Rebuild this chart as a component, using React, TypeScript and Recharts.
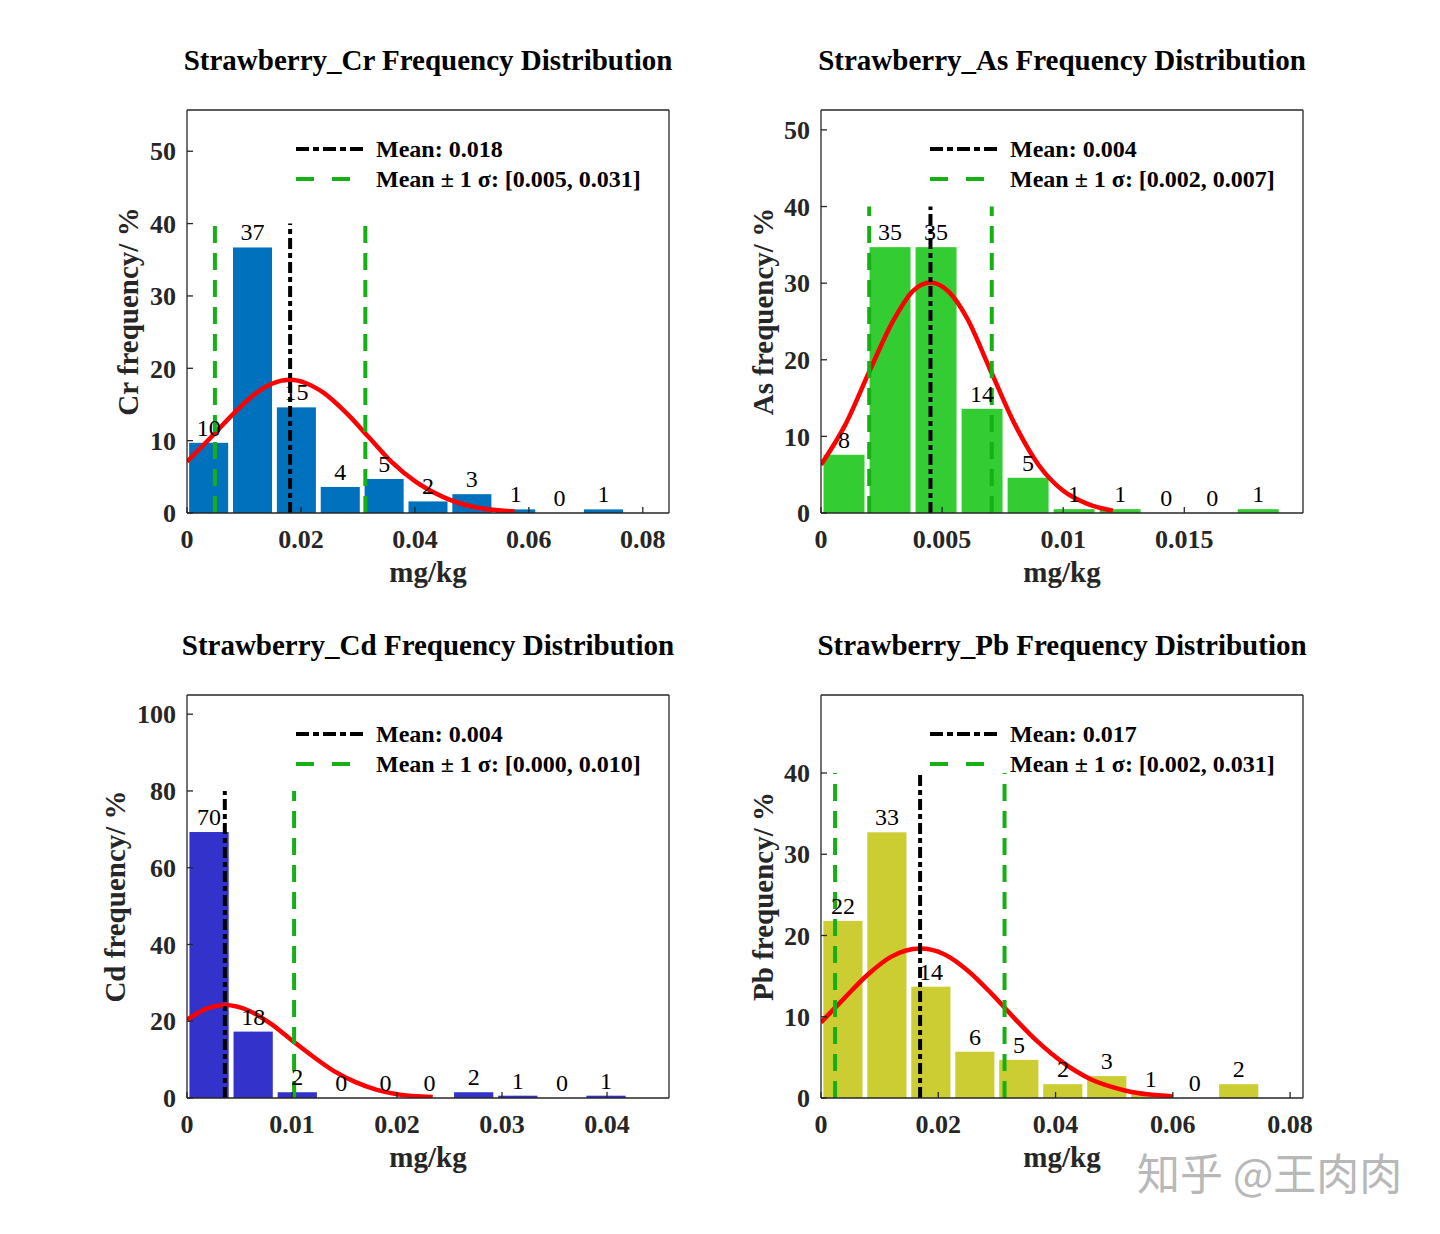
import {
  ComposedChart,
  Bar,
  Line,
  XAxis,
  YAxis,
  ReferenceLine,
  LabelList,
  Label,
  Legend,
} from "recharts";

const FONT = '"Liberation Serif", "Times New Roman", serif';
const AXIS_COLOR = "#262626";

// ---- Cr ----
const crBins = [0.0038, 0.0115, 0.0192, 0.0269, 0.0346, 0.0423, 0.05, 0.0577, 0.0654, 0.0731];
const crPct = [9.7, 36.7, 14.6, 3.6, 4.7, 1.6, 2.6, 0.5, 0, 0.5];
const crLabels = [10, 37, 15, 4, 5, 2, 3, 1, 0, 1];
const crCurveX = [0, 0.004, 0.008, 0.012, 0.015, 0.0181, 0.021, 0.024, 0.028, 0.032, 0.036, 0.04, 0.045, 0.05, 0.0575];
const crCurveY = [7.1, 10.3, 13.6, 16.5, 17.9, 18.4, 17.9, 16.6, 13.8, 10.4, 7.0, 4.4, 2.2, 0.9, 0.2];
const crMarks = [0.0181, 0.0049, 0.0313];
const crXTicks = [0, 0.02, 0.04, 0.06, 0.08];
const crYTicks = [0, 10, 20, 30, 40, 50];

// ---- As ----
const asBins = [0.00095, 0.00285, 0.00475, 0.00665, 0.00855, 0.01045, 0.01235, 0.01425, 0.01615, 0.01805];
const asPct = [7.6, 34.7, 34.7, 13.6, 4.6, 0.5, 0.5, 0, 0, 0.5];
const asLabels = [8, 35, 35, 14, 5, 1, 1, 0, 0, 1];
const asCurveX = [0, 0.001, 0.002, 0.003, 0.0038, 0.00452, 0.0053, 0.006, 0.007, 0.008, 0.009, 0.01, 0.011, 0.01205];
const asCurveY = [6.3, 11.5, 18.5, 25.2, 29.0, 30.1, 28.8, 25.6, 18.6, 11.6, 6.2, 2.9, 1.2, 0.3];
const asMarks = [0.00452, 0.00199, 0.00705];
const asXTicks = [0, 0.005, 0.01, 0.015];
const asYTicks = [0, 10, 20, 30, 40, 50];

// ---- Cd ----
const cdBins = [0.0021, 0.0063, 0.0105, 0.0147, 0.0189, 0.0231, 0.0273, 0.0315, 0.0357, 0.0399];
const cdPct = [69.3, 17.3, 1.5, 0, 0, 0, 1.5, 0.6, 0, 0.6];
const cdLabels = [70, 18, 2, 0, 0, 0, 2, 1, 0, 1];
const cdCurveX = [0, 0.002, 0.0036, 0.006, 0.008, 0.01, 0.012, 0.014, 0.016, 0.018, 0.02, 0.0234];
const cdCurveY = [20.4, 23.4, 24.2, 22.6, 19.3, 15.0, 10.8, 7.0, 4.2, 2.2, 1.0, 0.25];
const cdMarks = [0.0036, null, 0.0102];
const cdXTicks = [0, 0.01, 0.02, 0.03, 0.04];
const cdYTicks = [0, 20, 40, 60, 80, 100];

// ---- Pb ----
const pbBins = [0.00375, 0.01125, 0.01875, 0.02625, 0.03375, 0.04125, 0.04875, 0.05625, 0.06375, 0.07125];
const pbPct = [21.8, 32.7, 13.7, 5.7, 4.7, 1.7, 2.7, 0.5, 0, 1.7];
const pbLabels = [22, 33, 14, 6, 5, 2, 3, 1, 0, 2];
const pbCurveX = [0, 0.004, 0.008, 0.012, 0.0169, 0.021, 0.025, 0.029, 0.033, 0.037, 0.041, 0.046, 0.052, 0.06];
const pbCurveY = [9.3, 12.3, 15.2, 17.4, 18.4, 17.7, 15.7, 12.9, 9.8, 6.9, 4.5, 2.3, 0.9, 0.2];
const pbMarks = [0.0169, 0.0024, 0.0313];
const pbXTicks = [0, 0.02, 0.04, 0.06, 0.08];
const pbYTicks = [0, 10, 20, 30, 40];

const PLOT_W = 482;
const GREEN = "#14b014";

function Panel(props: any) {
  const {
    left, top, element, color, bins, pct, labels, curveX, curveY, marks,
    lineTop, xMax, yMax, xTicks, yTicks, meanText, rangeText, yLabelGap,
  } = props;
  const data = bins.map((x: number, i: number) => ({ x, pct: pct[i], label: labels[i] }));
  const curve = curveX.map((x: number, i: number) => ({ x, fit: curveY[i] }));
  const barW = ((bins[1] - bins[0]) / xMax) * PLOT_W * 0.89;
  const [mean, lower, upper] = marks;
  const tickFont = { fontFamily: FONT, fontSize: 26, fontWeight: "bold", fill: AXIS_COLOR };
  const innerTop = xTicks.filter((t: number) => t > 0);
  const innerRight = yTicks.filter((t: number) => t > 0);

  const barShape = (p: any) => {
    if (!p.height) return <g />;
    const cx = p.x + p.width / 2;
    return <rect x={cx - barW / 2} y={p.y} width={barW} height={p.height} fill={color} />;
  };

  const barLabel = (p: any) => (
    <text
      x={p.x + (p.width || 0) / 2}
      y={p.y - 7}
      textAnchor="middle"
      fontFamily={FONT}
      fontSize={24}
      fill="#000"
    >
      {p.value}
    </text>
  );

  const legendRow = (dash: string, stroke: string, text: string) => (
    <div style={{ display: "flex", alignItems: "center", height: 30 }}>
      <svg width={70} height={8} style={{ display: "block" }}>
        <line x1={0} y1={4} x2={70} y2={4} stroke={stroke} strokeWidth={4} strokeDasharray={dash} />
      </svg>
      <span style={{ marginLeft: 10, fontFamily: FONT, fontSize: 24, fontWeight: "bold", color: "#000", whiteSpace: "nowrap" }}>
        {text}
      </span>
    </div>
  );

  return (
    <div style={{ position: "absolute", left, top }}>
      <ComposedChart
        width={720}
        height={600}
        data={data}
        margin={{ top: 100, right: 41, bottom: 47, left: 127 }}
      >
        <XAxis
          dataKey="x"
          type="number"
          domain={[0, xMax]}
          ticks={xTicks}
          interval={0}
          allowDataOverflow
          height={40}
          tickSize={-6}
          tickMargin={23}
          stroke={AXIS_COLOR}
          strokeWidth={1.3}
          tick={tickFont}
        >
          <Label
            content={({ viewBox }: any) => (
              <text
                x={viewBox.x + viewBox.width / 2}
                y={viewBox.y + 69}
                textAnchor="middle"
                fontFamily={FONT}
                fontSize={29}
                fontWeight="bold"
                fill={AXIS_COLOR}
              >
                mg/kg
              </text>
            )}
          />
        </XAxis>
        <XAxis
          xAxisId="top"
          orientation="top"
          type="number"
          domain={[0, xMax]}
          ticks={innerTop}
          interval={0}
          allowDataOverflow
          height={10}
          tickSize={-6}
          stroke={AXIS_COLOR}
          strokeWidth={1.3}
          tick={false}
        >
          <Label
            content={({ viewBox }: any) => (
              <text
                x={viewBox.x + viewBox.width / 2}
                y={70}
                textAnchor="middle"
                fontFamily={FONT}
                fontSize={29}
                fontWeight="bold"
                fill="#000"
              >
                {`Strawberry_${element} Frequency Distribution`}
              </text>
            )}
          />
        </XAxis>
        <YAxis
          type="number"
          domain={[0, yMax]}
          ticks={yTicks}
          interval={0}
          allowDataOverflow
          width={60}
          tickSize={-6}
          tickMargin={17}
          stroke={AXIS_COLOR}
          strokeWidth={1.3}
          tick={tickFont}
        >
          <Label
            content={({ viewBox }: any) => {
              const cx = viewBox.x + viewBox.width - yLabelGap;
              const cy = viewBox.y + viewBox.height / 2;
              return (
                <text
                  x={cx}
                  y={cy}
                  transform={`rotate(-90 ${cx} ${cy})`}
                  textAnchor="middle"
                  dominantBaseline="central"
                  fontFamily={FONT}
                  fontSize={29}
                  fontWeight="bold"
                  fill={AXIS_COLOR}
                >
                  {`${element} frequency/ %`}
                </text>
              );
            }}
          />
        </YAxis>
        <YAxis
          yAxisId="right"
          orientation="right"
          type="number"
          domain={[0, yMax]}
          ticks={innerRight}
          interval={0}
          allowDataOverflow
          width={10}
          tickSize={-6}
          stroke={AXIS_COLOR}
          strokeWidth={1.3}
          tick={false}
        />
        <Legend
          layout="horizontal"
          verticalAlign="middle"
          align="center"
          wrapperStyle={{ left: 296, top: 134, width: 420 }}
          content={() => (
            <div>
              {legendRow("13 4 6 4", "#000", meanText)}
              {legendRow("18 18", GREEN, rangeText)}
            </div>
          )}
        />
        <Bar dataKey="pct" fill={color} shape={barShape} isAnimationActive={false} />
        <Line
          dataKey="pct"
          stroke="none"
          dot={false}
          activeDot={false}
          legendType="none"
          isAnimationActive={false}
        >
          <LabelList dataKey="label" content={barLabel} />
        </Line>
        <Line
          data={curve}
          dataKey="fit"
          type="monotone"
          stroke="#ff0000"
          strokeWidth={4.5}
          dot={false}
          activeDot={false}
          isAnimationActive={false}
        />
        <ReferenceLine
          segment={[{ x: mean, y: 0 }, { x: mean, y: lineTop }]}
          stroke="#000"
          strokeWidth={4}
          strokeDasharray="11 4 5 4"
        />
        {lower !== null && (
          <ReferenceLine
            segment={[{ x: lower, y: 0 }, { x: lower, y: lineTop }]}
            stroke={GREEN}
            strokeWidth={4}
            strokeDasharray="17 10"
          />
        )}
        {upper !== null && (
          <ReferenceLine
            segment={[{ x: upper, y: 0 }, { x: upper, y: lineTop }]}
            stroke={GREEN}
            strokeWidth={4}
            strokeDasharray="17 10"
          />
        )}
      </ComposedChart>
    </div>
  );
}

export default function App() {
  return (
    <div style={{ position: "absolute", left: 0, top: 0, width: 1440, height: 1234, background: "#fff" }}>
      <Panel
        left={0} top={0} element="Cr" color="#0072BD"
        bins={crBins} pct={crPct} labels={crLabels} curveX={crCurveX} curveY={crCurveY}
        marks={crMarks} lineTop={40} xMax={0.0846} yMax={55.7} xTicks={crXTicks} yTicks={crYTicks}
        meanText="Mean: 0.018" rangeText="Mean ± 1 σ: [0.005, 0.031]" yLabelGap={59}
      />
      <Panel
        left={634} top={0} element="As" color="#33CC33"
        bins={asBins} pct={asPct} labels={asLabels} curveX={asCurveX} curveY={asCurveY}
        marks={asMarks} lineTop={40} xMax={0.0199} yMax={52.6} xTicks={asXTicks} yTicks={asYTicks}
        meanText="Mean: 0.004" rangeText="Mean ± 1 σ: [0.002, 0.007]" yLabelGap={58}
      />
      <Panel
        left={0} top={585} element="Cd" color="#3333CC"
        bins={cdBins} pct={cdPct} labels={cdLabels} curveX={cdCurveX} curveY={cdCurveY}
        marks={cdMarks} lineTop={80} xMax={0.0459} yMax={105} xTicks={cdXTicks} yTicks={cdYTicks}
        meanText="Mean: 0.004" rangeText="Mean ± 1 σ: [0.000, 0.010]" yLabelGap={72}
      />
      <Panel
        left={634} top={585} element="Pb" color="#CCCC33"
        bins={pbBins} pct={pbPct} labels={pbLabels} curveX={pbCurveX} curveY={pbCurveY}
        marks={pbMarks} lineTop={40} xMax={0.0822} yMax={49.6} xTicks={pbXTicks} yTicks={pbYTicks}
        meanText="Mean: 0.017" rangeText="Mean ± 1 σ: [0.002, 0.031]" yLabelGap={58}
      />
      <div
        style={{
          position: "absolute",
          left: 1137,
          top: 1148,
          fontFamily: '"Noto Sans CJK SC", sans-serif',
          fontSize: 43,
          lineHeight: "46px",
          color: "#b8b8b8",
          whiteSpace: "nowrap",
        }}
      >
        知乎 @王肉肉
      </div>
    </div>
  );
}
